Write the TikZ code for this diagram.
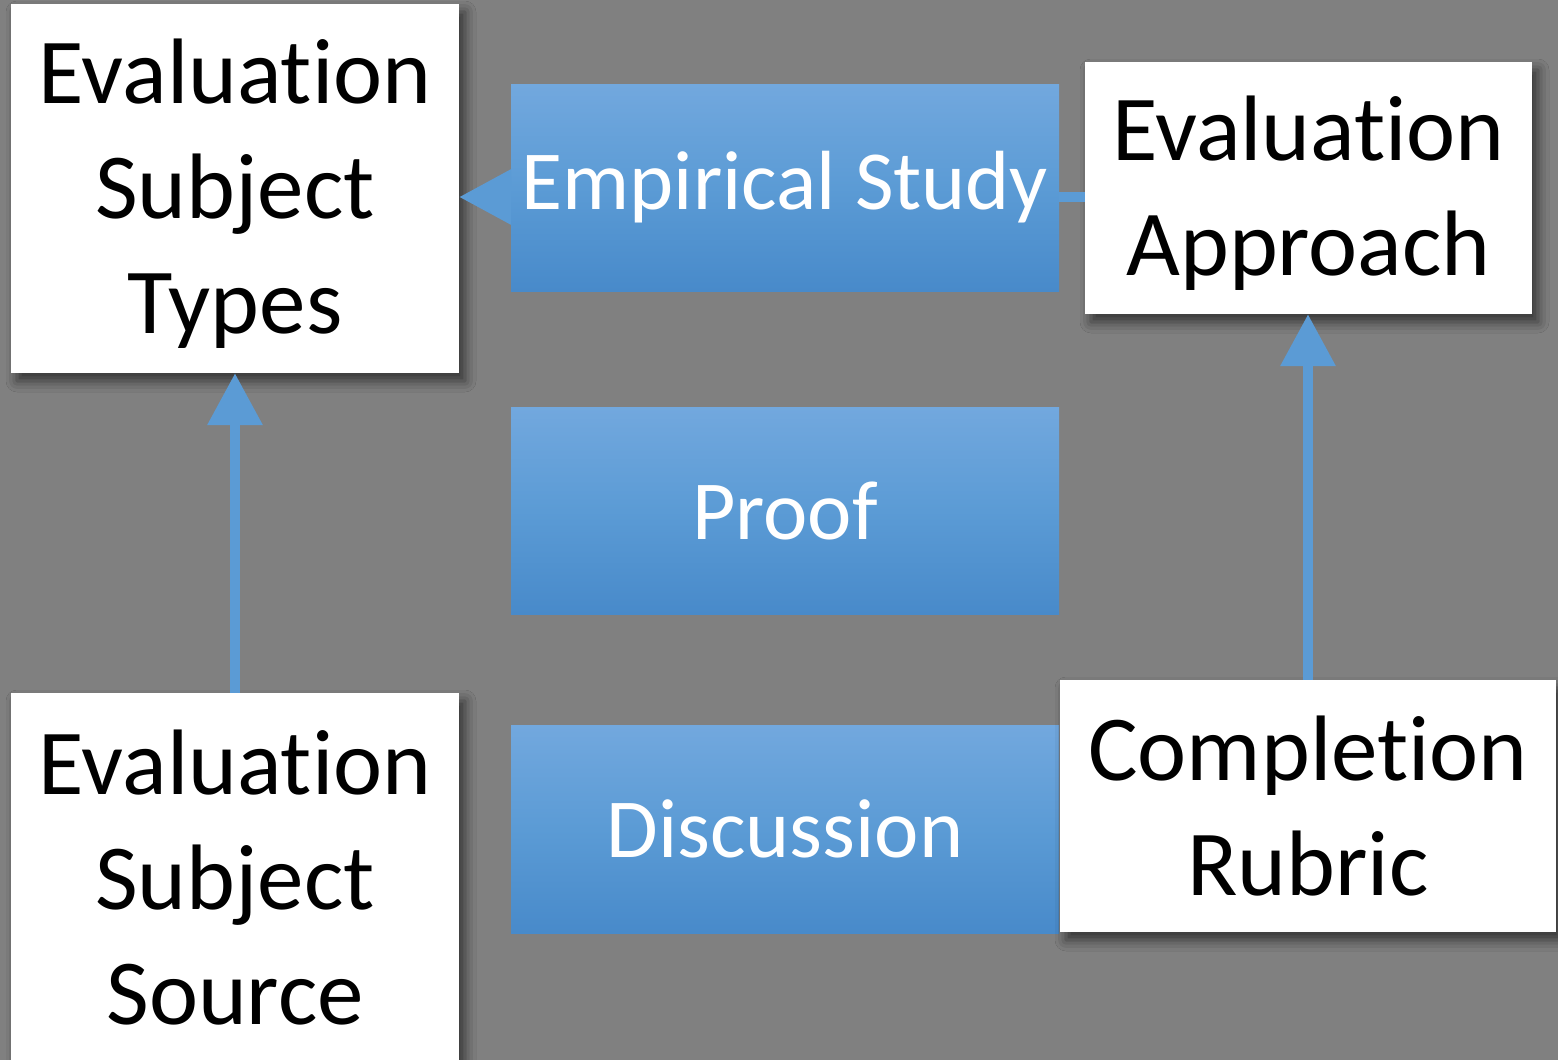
\documentclass[tikz,border=0pt]{standalone}
\usepackage{fontspec}
\setmainfont[RawFeature={-liga;-clig;-calt;-dlig}]{Carlito}
\usetikzlibrary{arrows.meta,shadows.blur,calc}
\definecolor{bggray}{RGB}{128,128,128}
\definecolor{bluetop}{RGB}{114,168,222}
\definecolor{bluemid}{RGB}{91,155,213}
\definecolor{bluebot}{RGB}{72,138,202}
\definecolor{arrowblue}{RGB}{91,155,213}
\tikzset{
  whitebox/.style={rectangle, fill=white, inner sep=0pt,
    blur shadow={shadow xshift=6pt, shadow yshift=-8pt, shadow blur radius=11pt, shadow opacity=60}},
  wtext/.style={inner sep=0pt, align=center, font=\fontsize{93}{115}\selectfont},
  bluebox/.style={rectangle, inner sep=0pt, align=center, text=white,
    top color=bluetop, bottom color=bluebot, middle color=bluemid,
    minimum width=548pt, font=\fontsize{84}{100}\selectfont},
  conn/.style={draw=arrowblue, line width=10pt},
  arr/.style={conn, -{Triangle[width=53pt,length=52pt]}},
}
\begin{document}
\begin{tikzpicture}[x=1pt,y=1pt]
\useasboundingbox (0,0) rectangle (1558,-1060);
\fill[bggray] (0,0) rectangle (1558,-1060);
\node[whitebox, minimum width=448pt, minimum height=369pt] (est) at (235,-188.5) {};
\node[wtext] (estT) at ([yshift=-5pt]est.center) {Evaluation\\Subject\\Types};
\node[whitebox, minimum width=448pt, minimum height=370pt] (src) at (235,-878) {};
\node[wtext] (srcT) at (src.center) {Evaluation\\Subject\\Source};
\node[whitebox, minimum width=447pt, minimum height=252pt] (app) at (1308.5,-188) {};
\node[wtext] (appT) at ([yshift=-5pt]app.center) {Evaluation\\Approach};
\node[bluebox, minimum height=207pt] (emp) at (785,-187.5) {Empirical Study};
\node[bluebox, minimum height=207pt] (prf) at (785,-510.5) {Proof};
\node[bluebox, minimum height=208pt] (dis) at (785,-829) {Discussion};
\node[whitebox, minimum width=496pt, minimum height=252pt] (rub) at (1308,-806) {};
\node[wtext] (rubT) at (rub.center) {Completion\\Rubric};
\draw[arr] ([yshift=-9.5pt]emp.west) -- ([yshift=-8.5pt]est.east);
\draw[conn] ([yshift=-9.5pt]emp.east) -- ([yshift=-9pt]app.west);
\draw[arr] (src.north) -- (est.south);
\draw[arr] (rub.north) -- (rub.north |- app.south);
\end{tikzpicture}
\end{document}
